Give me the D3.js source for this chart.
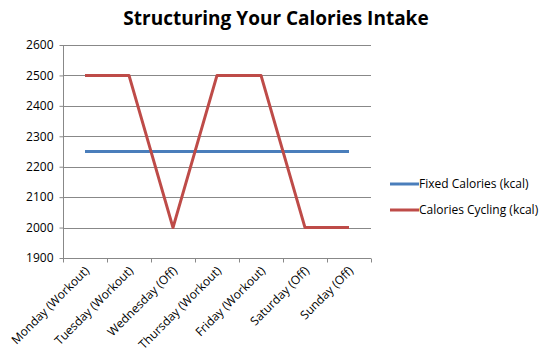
<!DOCTYPE html>
<html><head><meta charset="utf-8">
<script src="https://cdn.jsdelivr.net/npm/d3@7"></script>
<style>body{margin:0;background:#fff}svg{display:block}</style>
</head><body>
<script>
const categories = ["Monday (Workout)","Tuesday (Workout)","Wednesday (Off)","Thursday (Workout)","Friday (Workout)","Saturday (Off)","Sunday (Off)"];
const fixedCalories = [2250,2250,2250,2250,2250,2250,2250];
const cyclingCalories = [2500,2500,2000,2500,2500,2000,2000];
const yTicks = [1900,2000,2100,2200,2300,2400,2500,2600];
const seriesNames = ["Fixed Calories (kcal)","Calories Cycling (kcal)"];
const colors = ["#4A7EBB","#BE4B48"];

const W=550,H=356;
const svg=d3.select("body").append("svg").attr("width",W).attr("height",H);
const font="'Open Sans', 'Liberation Sans', sans-serif";
const x=d3.scaleBand().domain(categories).range([63,371]);
const y=d3.scaleLinear().domain([1900,2600]).range([258,45]);

svg.append("text").attr("x",276).attr("y",25).attr("text-anchor","middle")
  .attr("font-family",font).attr("font-weight","bold").attr("font-size",19).attr("fill","#000")
  .text("Structuring Your Calories Intake");

// gridlines
svg.append("g").selectAll("line").data(yTicks.slice(1)).join("line")
  .attr("x1",63).attr("x2",371).attr("y1",d=>Math.round(y(d))+0.5).attr("y2",d=>Math.round(y(d))+0.5)
  .attr("stroke","#888").attr("stroke-width",1);

const ya=svg.append("g").attr("transform","translate(63.5,0)")
  .call(d3.axisLeft(y).tickValues(yTicks).tickSize(4).tickFormat(d3.format("d")));
ya.selectAll("text").attr("font-family",font).attr("font-size",12).attr("fill","#000").attr("x",-10);
ya.selectAll("line,path").attr("stroke","#888");
ya.select("path").attr("d","M0,45V258.5");

const xa=svg.append("g").attr("transform","translate(0,258.5)");
xa.append("line").attr("x1",63).attr("x2",371).attr("stroke","#888");
const edges=categories.map(c=>x(c)).concat([x.range()[1]]);
xa.selectAll("line.t").data(edges).join("line").attr("class","t")
  .attr("x1",d=>Math.round(d)+0.5).attr("x2",d=>Math.round(d)+0.5).attr("y1",0).attr("y2",4).attr("stroke","#888");
xa.selectAll("text").data(categories).join("text")
  .attr("transform",d=>`translate(${x(d)+x.bandwidth()/2+2},${10}) rotate(-45)`)
  .attr("text-anchor","end").attr("dy","0.35em")
  .attr("font-family",font).attr("font-size",12).attr("fill","#000").text(d=>d);

const line=d3.line().x((d,i)=>x(categories[i])+x.bandwidth()/2).y(d=>y(d));
[fixedCalories,cyclingCalories].forEach((s,i)=>{
  svg.append("path").datum(s).attr("d",line).attr("fill","none")
    .attr("stroke",colors[i]).attr("stroke-width",3).attr("stroke-linejoin","round");
});

const lg=svg.append("g");
seriesNames.forEach((n,i)=>{
  const yy=184+i*26;
  lg.append("line").attr("x1",390).attr("x2",419).attr("y1",yy).attr("y2",yy).attr("stroke",colors[i]).attr("stroke-width",3);
  lg.append("text").attr("x",419).attr("y",yy).attr("dy","0.35em").attr("font-family",font)
    .attr("font-size",12).attr("fill","#000").text(n);
});
</script>
</body></html>
